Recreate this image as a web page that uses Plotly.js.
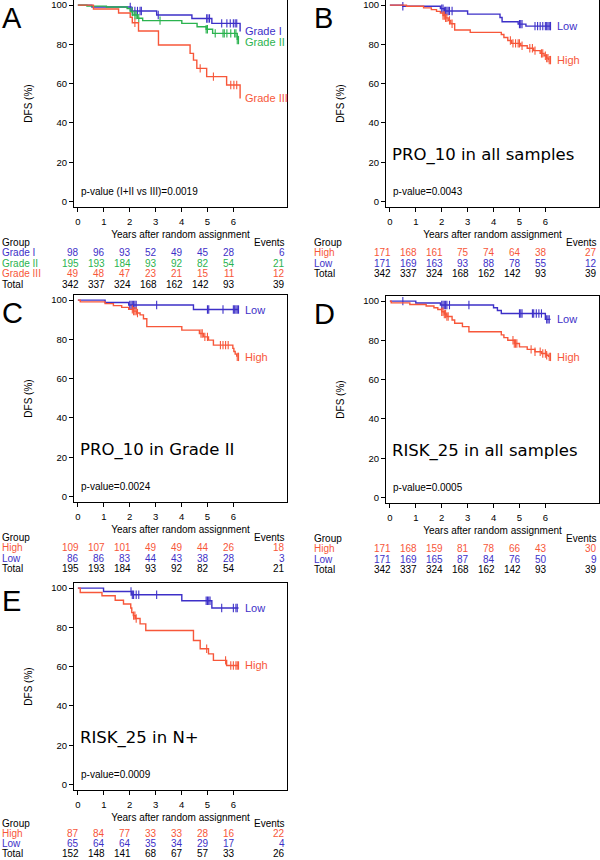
<!DOCTYPE html>
<html><head><meta charset="utf-8">
<script src="https://cdn.plot.ly/plotly-3.0.1.min.js"></script>
<style>html,body{margin:0;padding:0;background:#fff}#chart{width:600px;height:860px}</style>
</head><body><div id="chart"></div>
<script>
// ================= DATA =================
const riskTimes = [0, 1, 2, 3, 4, 5, 6];
const xTickVals = [0, 1, 2, 3, 4, 5, 6];
const yTickVals = [0, 20, 40, 60, 80, 100];

// ---- Panel A : Grade ----
const A_title = '';
const A_pvalue = 'p-value (I+II vs III)=0.0019';
const A_groups = ['Grade I', 'Grade II', 'Grade III'];
const A_risk_g1 = [98, 96, 93, 52, 49, 45, 28];
const A_risk_g2 = [195, 193, 184, 93, 92, 82, 54];
const A_risk_g3 = [49, 48, 47, 23, 21, 15, 11];
const A_risk_total = [342, 337, 324, 168, 162, 142, 93];
const A_events = [6, 21, 12];
const A_events_total = 39;
const A_g1_time = [0, 0.54, 2.05, 3.04, 4.4, 5.17, 6.26];
const A_g1_surv = [100, 99.0, 97.0, 95.0, 93.2, 90.7, 86.5];
const A_g1_cens = [2.02, 2.1, 2.2, 2.3, 2.4, 2.45, 3.1, 4.97, 5.02, 5.08, 5.55, 5.75, 5.88, 6.0, 6.07, 6.13];
const A_g2_time = [0, 0.35, 1.1, 1.9, 2.02, 2.12, 2.3, 2.5, 4.01, 4.6, 4.95, 5.2, 6.15];
const A_g2_surv = [100, 99.5, 99.0, 98.3, 96.6, 95.0, 93.3, 92.1, 90.7, 89.0, 87.7, 85.6, 82.2];
const A_g2_cens = [2.1, 2.2, 2.25, 2.35, 3.17, 4.95, 5.0, 5.3, 5.6, 5.65, 5.75, 5.9, 6.05, 6.1, 6.15, 6.2];
const A_g3_time = [0, 0.6, 1.57, 2.02, 2.1, 2.34, 3.11, 4.33, 4.46, 4.59, 4.97, 5.74, 6.26];
const A_g3_surv = [100, 98.0, 96.0, 93.8, 91.0, 86.8, 79.7, 75.4, 72.0, 67.8, 63.6, 59.3, 52.5];
const A_g3_cens = [2.2, 4.72, 5.23, 5.9, 6.02, 6.13];

// ---- Panel B : PRO_10 in all samples ----
const B_title = 'PRO_10 in all samples';
const B_pvalue = 'p-value=0.0043';
const B_groups = ['High', 'Low'];
const B_risk_high = [171, 168, 161, 75, 74, 64, 38];
const B_risk_low = [171, 169, 163, 93, 88, 78, 55];
const B_risk_total = [342, 337, 324, 168, 162, 142, 93];
const B_events = [27, 12];
const B_events_total = 39;
const B_high_time = [0, 0.64, 1.3, 1.6, 1.8, 1.95, 2.05, 2.15, 2.25, 2.35, 2.5, 3.1, 4.3, 4.4, 4.55, 4.7, 5.05, 5.3, 5.55, 5.8, 5.95, 6.05, 6.12];
const B_high_surv = [100, 99.4, 98.6, 97.7, 96.8, 95.9, 94.7, 93.5, 92.2, 90.5, 87.3, 86.1, 85.0, 83.5, 82.0, 80.5, 79.3, 78.0, 76.8, 75.4, 74.2, 73.0, 72.0];
const B_high_cens = [2.05, 2.1, 2.15, 2.2, 2.3, 2.4, 4.65, 4.75, 4.85, 4.95, 5.0, 5.1, 5.4, 5.5, 5.6, 5.85, 5.9, 6.0, 6.05, 6.1, 6.15, 6.2];
const B_low_time = [0, 0.5, 1.95, 2.1, 3.0, 4.25, 4.33, 4.95, 5.25, 6.2];
const B_low_surv = [100, 99.4, 98.2, 97.0, 95.4, 93.7, 91.5, 90.3, 89.3, 89.3];
const B_low_cens = [0.5, 2.0, 2.05, 2.1, 2.15, 2.2, 2.25, 2.3, 2.4, 5.0, 5.05, 5.1, 5.6, 5.7, 5.8, 5.9, 6.0, 6.05, 6.1, 6.15, 6.2];

// ---- Panel C : PRO_10 in Grade II ----
const C_title = 'PRO_10 in Grade II';
const C_pvalue = 'p-value=0.0024';
const C_groups = ['High', 'Low'];
const C_risk_high = [109, 107, 101, 49, 49, 44, 26];
const C_risk_low = [86, 86, 83, 44, 43, 38, 28];
const C_risk_total = [195, 193, 184, 93, 92, 82, 54];
const C_events = [18, 3];
const C_events_total = 21;
const C_high_time = [0, 0.09, 1.05, 1.37, 1.69, 1.96, 2.14, 2.27, 2.4, 2.53, 2.66, 4.01, 4.69, 4.85, 5.04, 5.23, 5.98, 6.02, 6.07, 6.13];
const C_high_surv = [100, 99.1, 98.2, 97.2, 96.3, 95.3, 94.4, 93.4, 92.5, 90.5, 86.5, 84.7, 83.0, 81.3, 79.6, 77.1, 75.4, 73.8, 72.5, 71.1];
const C_high_cens = [2.1, 2.15, 2.2, 2.25, 2.3, 4.75, 4.8, 4.9, 5.0, 5.5, 5.6, 5.7, 5.8, 6.15, 6.2];
const C_low_time = [0, 1.05, 1.96, 4.46, 6.2];
const C_low_surv = [100, 98.8, 97.5, 95.2, 95.2];
const C_low_cens = [2.0, 2.05, 2.1, 2.15, 2.2, 2.25, 3.04, 5.0, 5.05, 5.6, 6.0, 6.05, 6.1, 6.15, 6.2];

// ---- Panel D : RISK_25 in all samples ----
const D_title = 'RISK_25 in all samples';
const D_pvalue = 'p-value=0.0005';
const D_groups = ['High', 'Low'];
const D_risk_high = [171, 168, 159, 81, 78, 66, 43];
const D_risk_low = [171, 169, 165, 87, 84, 76, 50];
const D_risk_total = [342, 337, 324, 168, 162, 142, 93];
const D_events = [30, 9];
const D_events_total = 39;
const D_high_time = [0, 0.05, 0.77, 1.4, 1.7, 1.85, 2.0, 2.1, 2.2, 2.4, 2.5, 2.8, 3.05, 4.3, 4.4, 4.55, 4.8, 5.0, 5.3, 5.6, 5.85, 6.05, 6.12];
const D_high_surv = [100, 99.1, 98.3, 97.5, 96.6, 95.7, 94.6, 93.4, 92.2, 90.4, 88.7, 87.0, 84.4, 82.8, 81.4, 80.1, 78.4, 76.7, 75.4, 74.2, 73.3, 72.4, 71.6];
const D_high_cens = [2.0, 2.05, 2.1, 2.15, 2.2, 2.25, 4.75, 4.8, 4.85, 4.9, 5.45, 5.6, 5.8, 5.9, 6.0, 6.05, 6.15, 6.2];
const D_low_time = [0, 1.0, 1.95, 4.0, 4.15, 4.3, 6.0, 6.2];
const D_low_surv = [100, 99.0, 98.0, 96.6, 95.2, 93.7, 90.7, 90.7];
const D_low_cens = [0.5, 2.0, 2.05, 2.1, 2.15, 2.2, 2.3, 3.05, 5.0, 5.05, 5.1, 5.5, 5.55, 5.65, 5.75, 5.85, 6.05, 6.1, 6.15];

// ---- Panel E : RISK_25 in N+ ----
const E_title = 'RISK_25 in N+';
const E_pvalue = 'p-value=0.0009';
const E_groups = ['High', 'Low'];
const E_risk_high = [87, 84, 77, 33, 33, 28, 16];
const E_risk_low = [65, 64, 64, 35, 34, 29, 17];
const E_risk_total = [152, 148, 141, 68, 67, 57, 33];
const E_events = [22, 4];
const E_events_total = 26;
const E_high_time = [0, 0.09, 0.93, 1.44, 1.76, 2.04, 2.08, 2.14, 2.22, 2.4, 2.62, 4.46, 4.72, 5.04, 5.23, 5.74, 6.2];
const E_high_surv = [100, 97.8, 96.1, 93.8, 91.9, 89.9, 87.5, 86.0, 84.5, 81.8, 78.4, 73.3, 69.1, 66.5, 63.2, 60.6, 60.6];
const E_high_cens = [2.15, 2.2, 2.25, 4.97, 5.7, 5.9, 6.0, 6.1, 6.15, 6.2];
const E_low_time = [0, 0.99, 2.08, 4.01, 5.17, 6.2];
const E_low_surv = [100, 98.3, 96.6, 93.6, 89.9, 89.9];
const E_low_cens = [2.05, 2.1, 2.15, 2.25, 2.35, 3.04, 4.95, 5.0, 5.05, 5.1, 5.55, 6.0, 6.1, 6.15];

// ================= STYLE / LAYOUT =================
const BLUE = '#3d30c8', GREEN = '#2bb34f', RED = '#f7573a', BLACK = '#000000';
const W = 600, H = 860;
const SANS = 'Liberation Sans, Arial, Helvetica, sans-serif';
const DEJAVU = 'DejaVu Sans, sans-serif';

const panels = [
  {letter: 'A', box: [74, 287, 0, 207], tbl: [35, 10.5], title: A_title, pvalue: A_pvalue,
   curves: [
     {name: A_groups[0], t: A_g1_time, s: A_g1_surv, c: A_g1_cens, color: BLUE, yshift: 1},
     {name: A_groups[1], t: A_g2_time, s: A_g2_surv, c: A_g2_cens, color: GREEN, yshift: -2},
     {name: A_groups[2], t: A_g3_time, s: A_g3_surv, c: A_g3_cens, color: RED, yshift: 0}],
   rows: [
     {label: A_groups[0], risk: A_risk_g1, ev: A_events[0], color: BLUE},
     {label: A_groups[1], risk: A_risk_g2, ev: A_events[1], color: GREEN},
     {label: A_groups[2], risk: A_risk_g3, ev: A_events[2], color: RED},
     {label: 'Total', risk: A_risk_total, ev: A_events_total, color: BLACK}]},
  {letter: 'B', box: [386, 599, 0, 207], tbl: [35, 10.5], title: B_title, pvalue: B_pvalue,
   curves: [
     {name: B_groups[1], t: B_low_time, s: B_low_surv, c: B_low_cens, color: BLUE, yshift: 0},
     {name: B_groups[0], t: B_high_time, s: B_high_surv, c: B_high_cens, color: RED, yshift: 0}],
   rows: [
     {label: B_groups[0], risk: B_risk_high, ev: B_events[0], color: RED},
     {label: B_groups[1], risk: B_risk_low, ev: B_events[1], color: BLUE},
     {label: 'Total', risk: B_risk_total, ev: B_events_total, color: BLACK}]},
  {letter: 'C', box: [74, 287, 295, 502], tbl: [35, 10.5], title: C_title, pvalue: C_pvalue,
   curves: [
     {name: C_groups[1], t: C_low_time, s: C_low_surv, c: C_low_cens, color: BLUE, yshift: 0},
     {name: C_groups[0], t: C_high_time, s: C_high_surv, c: C_high_cens, color: RED, yshift: 0}],
   rows: [
     {label: C_groups[0], risk: C_risk_high, ev: C_events[0], color: RED},
     {label: C_groups[1], risk: C_risk_low, ev: C_events[1], color: BLUE},
     {label: 'Total', risk: C_risk_total, ev: C_events_total, color: BLACK}]},
  {letter: 'D', box: [386, 599, 296, 503], tbl: [35, 10.5], title: D_title, pvalue: D_pvalue,
   curves: [
     {name: D_groups[1], t: D_low_time, s: D_low_surv, c: D_low_cens, color: BLUE, yshift: 0},
     {name: D_groups[0], t: D_high_time, s: D_high_surv, c: D_high_cens, color: RED, yshift: 0}],
   rows: [
     {label: D_groups[0], risk: D_risk_high, ev: D_events[0], color: RED},
     {label: D_groups[1], risk: D_risk_low, ev: D_events[1], color: BLUE},
     {label: 'Total', risk: D_risk_total, ev: D_events_total, color: BLACK}]},
  {letter: 'E', box: [74, 287, 583, 790], tbl: [33, 10.2], title: E_title, pvalue: E_pvalue,
   curves: [
     {name: E_groups[1], t: E_low_time, s: E_low_surv, c: E_low_cens, color: BLUE, yshift: 0},
     {name: E_groups[0], t: E_high_time, s: E_high_surv, c: E_high_cens, color: RED, yshift: 0}],
   rows: [
     {label: E_groups[0], risk: E_risk_high, ev: E_events[0], color: RED},
     {label: E_groups[1], risk: E_risk_low, ev: E_events[1], color: BLUE},
     {label: 'Total', risk: E_risk_total, ev: E_events_total, color: BLACK}]}
];

function survAt(t, times, surv) {
  let v = surv[0];
  for (let i = 0; i < times.length; i++) { if (times[i] <= t) v = surv[i]; }
  return v;
}

const traces = [];
const annotations = [];
const layout = {
  width: W, height: H, margin: {l: 0, r: 0, t: 0, b: 0},
  paper_bgcolor: '#fff', plot_bgcolor: '#fff', showlegend: false,
  font: {family: SANS, size: 10, color: '#000'},
  annotations: annotations
};

const LABEL_X = 6.38;
panels.forEach((p, i) => {
  const n = i === 0 ? '' : String(i + 1);
  const xa = 'x' + n, ya = 'y' + n;
  const [L, R, T, B] = p.box;
  layout['xaxis' + n] = {
    domain: [L / W, R / W], range: [-0.15, 8.07], anchor: ya,
    tickvals: xTickVals, ticks: 'outside', ticklen: 4, tickwidth: 1, tickcolor: '#000',
    showline: true, mirror: true, linecolor: '#000', linewidth: 1,
    showgrid: false, zeroline: false, fixedrange: true, ticklabeloverflow: 'allow',
    ticklabelstandoff: 2,
    tickfont: {size: 9.5, family: SANS},
    title: {text: 'Years after random assignment', font: {size: 10, family: SANS}, standoff: 4}
  };
  layout['yaxis' + n] = {
    domain: [1 - B / H, 1 - T / H], range: [-2.8, 102.6], anchor: xa,
    tickvals: yTickVals, ticks: 'outside', ticklen: 4, tickwidth: 1, tickcolor: '#000',
    showline: true, mirror: true, linecolor: '#000', linewidth: 1,
    showgrid: false, zeroline: false, fixedrange: true, ticklabeloverflow: 'allow',
    tickfont: {size: 9.5, family: SANS},
    title: {text: 'DFS (%)', font: {size: 10, family: SANS}, standoff: 16}
  };

  p.curves.forEach(c => {
    traces.push({type: 'scatter', mode: 'lines', x: c.t, y: c.s, xaxis: xa, yaxis: ya,
      line: {shape: 'hv', color: c.color, width: 1.4}, hoverinfo: 'skip'});
    traces.push({type: 'scatter', mode: 'markers', x: c.c, y: c.c.map(t => survAt(t, c.t, c.s)),
      xaxis: xa, yaxis: ya, hoverinfo: 'skip',
      marker: {symbol: 'line-ns-open', size: 6, color: c.color, line: {color: c.color, width: 1.1}}});
    annotations.push({xref: xa, yref: ya, x: LABEL_X, y: c.s[c.s.length - 1], yshift: c.yshift,
      text: c.name, showarrow: false, xanchor: 'left', yanchor: 'middle',
      font: {size: 11, color: c.color, family: SANS}});
  });

  // panel letter
  annotations.push({xref: 'paper', yref: 'paper', x: (L - 74) / W, y: 1 - (T + 17.5) / H,
    text: p.letter, showarrow: false, xanchor: 'left', yanchor: 'middle',
    font: {size: 29, family: SANS, color: '#000'}});
  // big title
  if (p.title) {
    annotations.push({xref: xa, yref: ya, x: 0, y: 23.5, text: p.title, showarrow: false,
      xanchor: 'left', yanchor: 'middle', font: {size: 16.5, family: DEJAVU, color: '#000'}});
  }
  // p-value
  annotations.push({xref: xa, yref: ya, x: 0.06, y: 5, text: p.pvalue, showarrow: false,
    xanchor: 'left', yanchor: 'middle', font: {size: 10, family: SANS, color: '#000'}});

  // risk table
  const [off, step] = p.tbl;
  const rowY = k => 1 - (B + off + step * k) / H;
  annotations.push({xref: 'paper', yref: 'paper', x: (L - 74) / W, y: rowY(0), text: 'Group',
    showarrow: false, xanchor: 'left', yanchor: 'middle', font: {size: 10, family: SANS, color: '#000'}});
  annotations.push({xref: 'paper', yref: 'paper', x: R / W, y: rowY(0), text: 'Events',
    showarrow: false, xanchor: 'right', yanchor: 'middle', font: {size: 10, family: SANS, color: '#000'}});
  p.rows.forEach((r, k) => {
    const y = rowY(k + 1);
    annotations.push({xref: 'paper', yref: 'paper', x: (L - 74) / W, y: y, text: r.label,
      showarrow: false, xanchor: 'left', yanchor: 'middle', font: {size: 10, family: SANS, color: r.color}});
    r.risk.forEach((v, j) => {
      annotations.push({xref: xa, yref: 'paper', x: riskTimes[j], y: y, xshift: 3.5, text: String(v),
        showarrow: false, xanchor: 'right', yanchor: 'middle', font: {size: 10, family: SANS, color: r.color}});
    });
    annotations.push({xref: 'paper', yref: 'paper', x: R / W, y: y, text: String(r.ev),
      showarrow: false, xanchor: 'right', yanchor: 'middle', font: {size: 10, family: SANS, color: r.color}});
  });
});

Plotly.newPlot('chart', traces, layout, {staticPlot: true, displayModeBar: false});
</script>
</body></html>
